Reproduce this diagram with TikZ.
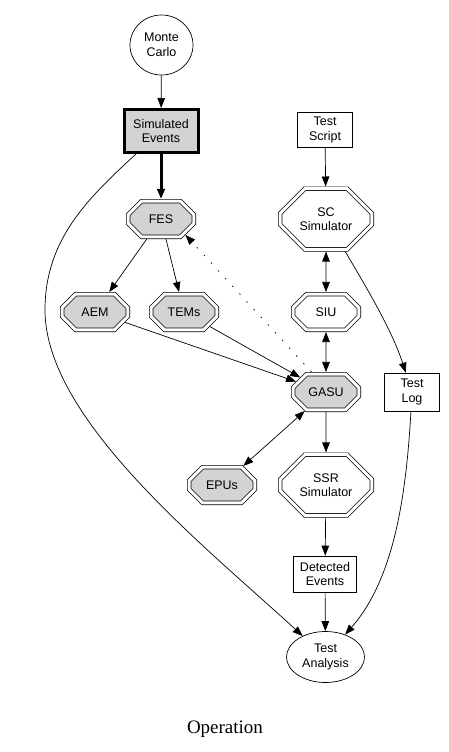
\documentclass[tikz,border=0pt]{standalone}
\usepackage{fontspec}
\setmainfont{Liberation Serif}
\newfontfamily\labelfont{Liberation Sans}
\usetikzlibrary{positioning,arrows.meta,shapes.geometric,shapes.misc}
\definecolor{unitgray}{RGB}{211,211,211}

\begin{document}
\begin{tikzpicture}[
    x=1pt, y=-1pt,
    base/.style={
        draw,
        line width=0.7pt,
        align=center,
        inner sep=1pt,
        font=\labelfont\fontsize{12.5}{14.5}\selectfont
    },
    oval/.style={base, ellipse, inner sep=0pt},
    box/.style={base, rectangle},
    octo/.style={
        base,
        chamfered rectangle,
        double, double distance=3pt,
        outer sep=2.2pt,
        chamfered rectangle xsep=15pt,
        chamfered rectangle ysep=8pt,
        minimum width=65.6pt,
        minimum height=35.6pt
    },
    bigocto/.style={
        octo,
        chamfered rectangle xsep=23pt,
        chamfered rectangle ysep=12pt,
        minimum width=91.6pt,
        minimum height=60.6pt
    },
    hw/.style={fill=unitgray},
    arr/.style={
        -{Triangle[length=10pt,width=7.5pt]},
        line width=0.7pt
    },
    dbl/.style={
        {Triangle[length=10pt,width=7.5pt]}-{Triangle[length=10pt,width=7.5pt]},
        line width=0.7pt
    },
    fewdots/.style={dash pattern=on 1.5pt off 9pt}
]
\useasboundingbox (0,0) rectangle (448,752);

% simulation chain
\node[oval, minimum width=63pt, minimum height=60pt] (mc) at (161.5,45) {Monte\\Carlo};
\node[box, line width=3pt, fill=unitgray, minimum width=74pt, minimum height=43pt] (se) at (161,131) {Simulated\\Events};
\node[octo, hw] (fes) at (161,219) {FES};
\node[octo, hw] (aem) at (95,312) {AEM};
\node[octo, hw] (tems) at (184,312) {TEMs};
\node[octo, hw] (epus) at (222,485) {EPUs};

% test stand
\node[box, minimum width=55pt, minimum height=35pt] (ts) at (325,130) {Test\\Script};
\node[bigocto] (sc) at (326,219) {SC\\Simulator};
\node[octo] (siu) at (326,312) {SIU};
\node[octo, hw] (gasu) at (326,392) {GASU};
\node[box, minimum width=55pt, minimum height=38pt] (tl) at (412,392) {Test\\Log};
\node[bigocto] (ssr) at (326,485) {SSR\\Simulator};
\node[box, minimum width=63pt, minimum height=36pt] (de) at (325,574) {Detected\\Events};
\node[oval, minimum width=78pt, minimum height=51pt] (ta) at (325.5,657) {Test\\Analysis};

\node[font=\fontsize{19}{22}\selectfont] (caption) at (225,729) {Operation};

\coordinate (bend) at (45,310);

\draw[arr] (mc) -- (se);
\draw[arr, line width=3pt] (se) -- (fes);
\draw[arr] (se) .. controls (87,199) and (45,240) .. (bend)
    .. controls (45,420) and (207,548) .. (ta);
\draw[arr] (fes) -- (aem);
\draw[arr] (fes) -- (tems);
\draw[arr] (aem) -- (gasu);
\draw[arr] (tems) -- (gasu);
\draw[arr, fewdots] (gasu.126) -- (fes.-33);

\draw[arr] (ts) -- (sc);
\draw[dbl] (sc) -- (siu);
\draw[dbl] (siu) -- (gasu);
\draw[arr] (sc) .. controls (365,285) and (392,330) .. (tl);
\draw[dbl] (gasu) -- (epus);
\draw[arr] (gasu) -- (ssr);
\draw[arr] (ssr) -- (de);
\draw[arr] (de) -- (ta);
\draw[arr] (tl) .. controls (406,500) and (393,580) .. (ta);

\end{tikzpicture}
\end{document}
